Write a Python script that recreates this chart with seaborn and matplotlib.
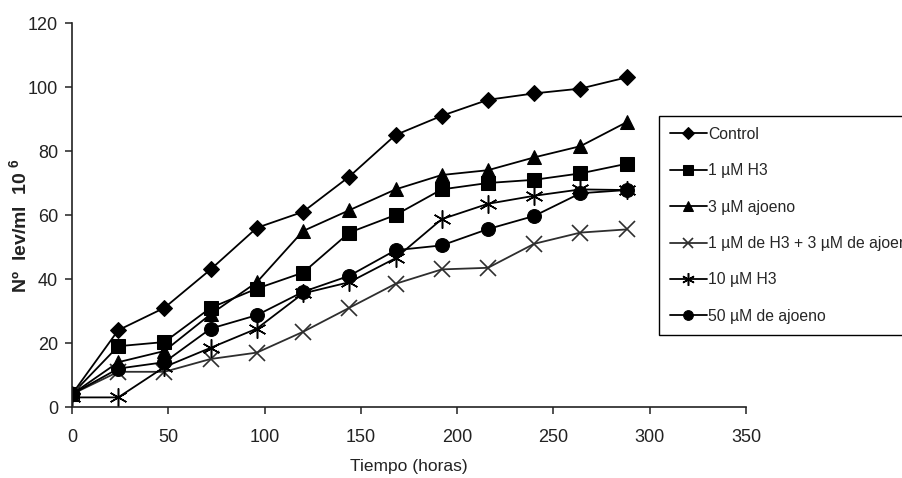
import matplotlib
matplotlib.use("Agg")
import matplotlib.pyplot as plt
import seaborn as sns
import pandas as pd

# ---- data ----
hours = [0, 24, 48, 72, 96, 120, 144, 168, 192, 216, 240, 264, 288]
control = [4, 24, 31, 43, 56, 61, 72, 85, 91, 96, 98, 99.5, 103]
h3_1 = [4, 19, 20.3, 31, 37, 42, 54.5, 60, 68, 70, 71, 73, 76]
ajoeno_3 = [4, 14, 17.5, 29, 39, 55, 61.5, 68, 72.5, 74, 78, 81.5, 89]
mix = [4, 11, 11, 15, 17, 23.5, 31, 38.5, 43, 43.5, 51, 54.5, 55.5]
h3_10 = [3, 3, 12.5, 18.5, 24.5, 35.5, 39, 46.5, 58.7, 63.5, 66, 68, 67.8]
ajoeno_50 = [4, 12, 14, 24.5, 28.7, 36, 41, 49, 50.5, 55.6, 59.7, 66.8, 67.8]

labels = ["Control", "1 µM H3", "3 µM ajoeno",
          "1 µM de H3 + 3 µM de ajoeno", "10 µM H3", "50 µM de ajoeno"]
series = [control, h3_1, ajoeno_3, mix, h3_10, ajoeno_50]
x_ticks = [0, 50, 100, 150, 200, 250, 300, 350]
y_ticks = [0, 20, 40, 60, 80, 100, 120]

sns.set_style("ticks")
plt.rcParams["font.family"] = ["Liberation Sans", "DejaVu Sans"]
plt.rcParams["mathtext.fontset"] = "custom"
plt.rcParams["mathtext.rm"] = "Liberation Sans"
plt.rcParams["mathtext.bf"] = "Liberation Sans:bold"

styles = [
    dict(marker="D", markersize=8.5, color="black"),
    dict(marker="s", markersize=10, color="black"),
    dict(marker="^", markersize=10.5, color="black"),
    dict(marker="x", markersize=11, color="#2e2e2e", markeredgewidth=1.2),
    dict(marker=(6, 2, 0), markersize=13, color="black", markeredgewidth=1.1),
    dict(marker="o", markersize=10, color="black"),
]

fig = plt.figure(figsize=(9.02, 4.78), dpi=100)
ax = fig.add_axes([72 / 902, 1 - 407 / 478, (746 - 72) / 902, (407 - 23) / 478])

for lab, vals, st in zip(labels, series, styles):
    df = pd.DataFrame({"t": hours, "v": vals})
    sns.lineplot(data=df, x="t", y="v", ax=ax, label=lab, linewidth=1.3,
                 markeredgecolor=st["color"], markerfacecolor=st["color"],
                 **st)

ax.set_xlim(0, 350)
ax.set_ylim(0, 120)
ax.set_xticks(x_ticks)
ax.set_yticks(y_ticks)
ax.tick_params(axis="both", direction="out", length=5, width=1.1,
               labelsize=13, colors="#222222")
ax.tick_params(axis="x", pad=11)
ax.tick_params(axis="y", pad=5)
for side in ["top", "right"]:
    ax.spines[side].set_visible(False)
for side in ["left", "bottom"]:
    ax.spines[side].set_linewidth(1.2)
    ax.spines[side].set_color("#222222")

ax.set_xlabel("Tiempo (horas)", fontsize=12.5, color="#222222")
ax.xaxis.set_label_coords(0.5, -(459 - 407) / 384, transform=ax.transAxes)
ax.set_ylabel(r"Nº  lev/ml  10 $\mathbf{^{6}}$", fontsize=14,
              fontweight="bold", color="#222222")
ax.yaxis.set_label_coords(-(72 - 30) / 674, (407 - 226) / 384,
                          transform=ax.transAxes)

leg = ax.legend(loc="upper left", bbox_to_anchor=(659 / 902, 1 - 116 / 478),
                bbox_transform=fig.transFigure, borderaxespad=0,
                frameon=True, fancybox=False, edgecolor="black",
                framealpha=1, fontsize=11.3, handlelength=2.35,
                handletextpad=0.1, labelspacing=1.36, borderpad=0.7,
                markerscale=0.7)
leg.get_frame().set_linewidth(1.0)

fig.savefig("out.png", dpi=100)
